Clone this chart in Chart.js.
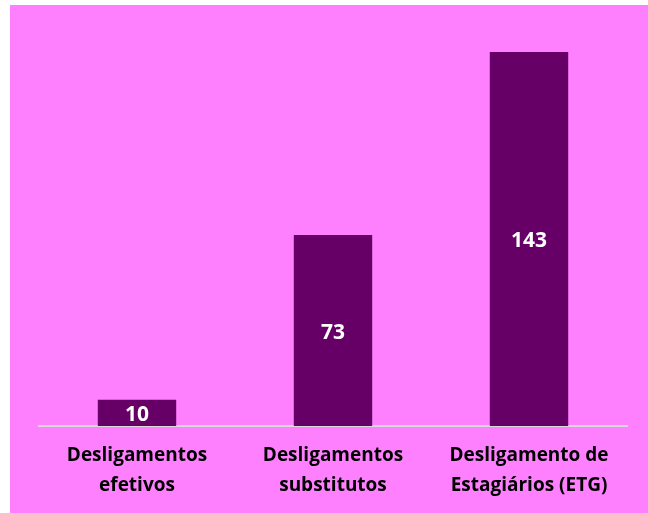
<!DOCTYPE html>
<html>
<head>
<meta charset="utf-8">
<script src="https://cdn.jsdelivr.net/npm/chart.js@4"></script>
<style>
  html, body { margin: 0; padding: 0; background: #ffffff; }
  #wrap { position: absolute; left: 10px; top: 5px; width: 638px; height: 508px; background: #ff80ff; }
</style>
</head>
<body>
<div id="wrap"><canvas id="chart" width="638" height="508"></canvas></div>
<script>
// ===============================
// Dados
// ===============================
const categorias = [
    ["Desligamentos", "efetivos"],
    ["Desligamentos", "substitutos"],
    ["Desligamento de", "Estagiários (ETG)"]
];
const valores = [10, 73, 143];

const fonteBase = "'Open Sans', Lato, sans-serif";

// rótulos de dados dentro das barras
const rotulosBarras = {
    id: "rotulosBarras",
    afterDatasetsDraw(chart){
        const ctx = chart.ctx;
        const meta = chart.getDatasetMeta(0);
        ctx.save();
        ctx.fillStyle = "#ffffff";
        ctx.font = "bold 21px " + fonteBase;
        ctx.textAlign = "center";
        ctx.textBaseline = "middle";
        meta.data.forEach((bar, i)=>{
            const y = (bar.y + bar.base) / 2 + 2;
            ctx.fillText(String(valores[i]), bar.x, y);
        });
        ctx.restore();
    }
};

const ctx = document.getElementById("chart").getContext("2d");
const grafico = new Chart(ctx, {
    type: "bar",
    data: {
        labels: categorias,
        datasets: [{
            data: valores,
            backgroundColor: "#660066",
            barPercentage: 0.4,
            categoryPercentage: 1.0
        }]
    },
    options: {
        responsive: false,
        animation: false,
        layout: { padding: { top: 47, left: 29, right: 21, bottom: 0 } },
        plugins: {
            legend: { display: false },
            tooltip: { enabled: false }
        },
        scales: {
            x: {
                grid: { display: false, drawTicks: false },
                border: { display: true, color: "#d9d9d9", width: 2 },
                ticks: {
                    color: "#000000",
                    font: { family: fonteBase, size: 19, weight: "bold", lineHeight: 1.58 },
                    padding: 15,
                    maxRotation: 0,
                    autoSkip: false
                },
                afterFit: scale => { scale.height = 87; }
            },
            y: {
                display: false,
                min: 0,
                max: 143
            }
        }
    },
    plugins: [rotulosBarras]
});
</script>
</body>
</html>
